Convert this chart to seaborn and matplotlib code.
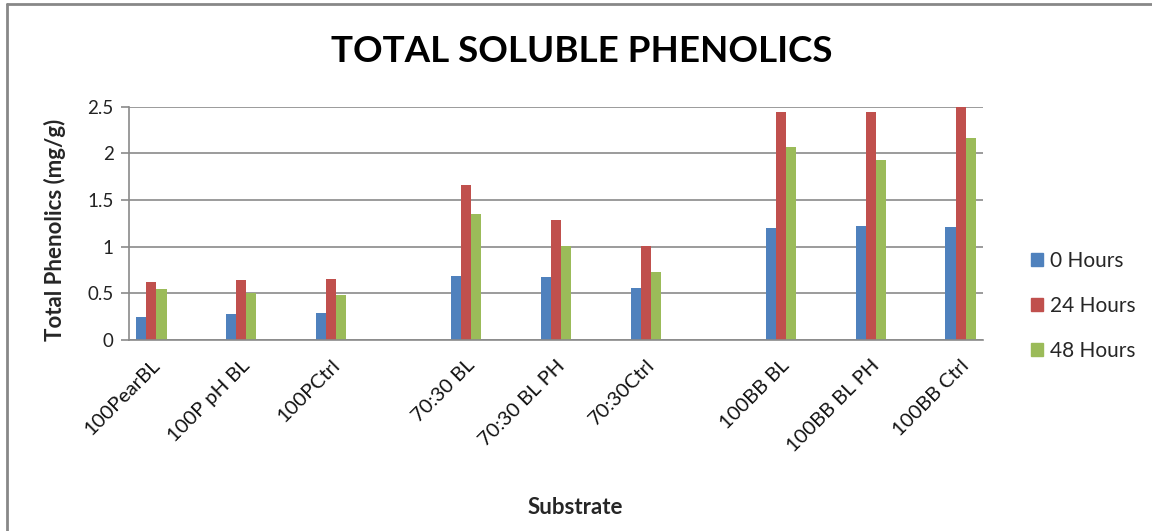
import matplotlib
matplotlib.use("Agg")
import matplotlib.pyplot as plt
from matplotlib.lines import Line2D
import seaborn as sns
import pandas as pd

# Substrates and total soluble phenolics (mg/g) at each sampling time
substrates = ["100PearBL", "100P pH BL", "100PCtrl",
              "70:30 BL", "70:30 BL PH", "70:30Ctrl",
              "100BB BL", "100BB BL PH", "100BB Ctrl"]
hours_0 = [0.25, 0.28, 0.29, 0.69, 0.67, 0.56, 1.20, 1.22, 1.21]
hours_24 = [0.62, 0.64, 0.65, 1.66, 1.29, 1.01, 2.44, 2.44, 2.50]
hours_48 = [0.55, 0.50, 0.48, 1.35, 1.01, 0.73, 2.07, 1.93, 2.16]
series_names = ["0 Hours", "24 Hours", "48 Hours"]
colors = ["#4F81BD", "#C0504D", "#9BBB59"]
y_ticks = [0, 0.5, 1, 1.5, 2, 2.5]
y_tick_labels = ["0", "0.5", "1", "1.5", "2", "2.5"]

df = pd.DataFrame({
    "Substrate": substrates * 3,
    "Time": [s for s in series_names for _ in substrates],
    "Value": hours_0 + hours_24 + hours_48,
})

# Each substrate gets a slot followed by a spacer slot; groups are separated
# by one extra spacer.
groups = [substrates[0:3], substrates[3:6], substrates[6:9]]
order = []
n_sp = 0
for gi, grp in enumerate(groups):
    for i, s in enumerate(grp):
        order.append(s)
        if i < len(grp) - 1 or gi < len(groups) - 1:
            order.append(f"_sp{n_sp}"); n_sp += 1
    if gi < len(groups) - 1:
        order.append(f"_sp{n_sp}"); n_sp += 1

sns.set_theme(style="white")
plt.rcParams["font.family"] = ["Lato", "DejaVu Sans"]

fig = plt.figure(figsize=(11.52, 5.31), dpi=100)
ax = fig.add_axes([129 / 1152, 1 - 340 / 531, (983 - 129) / 1152, (340 - 106.7) / 531])

sns.barplot(data=df, x="Substrate", y="Value", hue="Time", order=order,
            hue_order=series_names, palette=colors, width=0.67,
            saturation=1, linewidth=0, ax=ax, legend=False)

ax.set_ylim(0, 2.5)
ax.set_yticks(y_ticks)
ax.set_yticklabels(y_tick_labels, fontsize=13.5, color="#222222")
ax.yaxis.grid(True, color="#8a8a8a", linewidth=1.2)
ax.set_axisbelow(True)
ax.tick_params(axis="y", direction="out", length=6, width=1.2,
               color="#8a8a8a", pad=5, left=True)

pos = [order.index(s) for s in substrates]
ax.set_xticks(pos)
ax.set_xticklabels(substrates, rotation=45, ha="right",
                   rotation_mode="anchor", fontsize=14.5, color="#111111")
ax.tick_params(axis="x", length=0, pad=12)
ax.set_xlim(-0.5, len(order) - 0.5)

for side in ["top", "right"]:
    ax.spines[side].set_visible(False)
for side in ["left", "bottom"]:
    ax.spines[side].set_color("#8a8a8a")
    ax.spines[side].set_linewidth(1.2)

ax.set_xlabel("")
ax.set_ylabel("")
fig.text(582 / 1152, 1 - 52 / 531, "TOTAL SOLUBLE PHENOLICS", ha="center",
         va="center", fontsize=26.5, fontweight="bold", color="#000000")
fig.text(55 / 1152, 1 - 230 / 531, "Total Phenolics (mg/g)", rotation=90,
         ha="center", va="center", fontsize=16, fontweight="bold")
fig.text(575 / 1152, 1 - 508 / 531, "Substrate", ha="center", va="center",
         fontsize=16, fontweight="bold")

handles = [plt.Rectangle((0, 0), 1, 1, color=c) for c in colors]
fig.legend(handles, series_names, loc="center left",
           bbox_to_anchor=(1012 / 1152, 1 - 306 / 531), frameon=False,
           fontsize=15, handlelength=0.6, handleheight=0.6,
           handletextpad=0.3, labelspacing=1.2)

# Chart-area frame along the top and left edges
fig.add_artist(Line2D([7 / 1152, 1], [1 - 4 / 531, 1 - 4 / 531],
                      transform=fig.transFigure, color="#888888", linewidth=2))
fig.add_artist(Line2D([7 / 1152, 7 / 1152], [0, 1 - 4 / 531],
                      transform=fig.transFigure, color="#888888", linewidth=2))

fig.savefig("out.png", dpi=100)
